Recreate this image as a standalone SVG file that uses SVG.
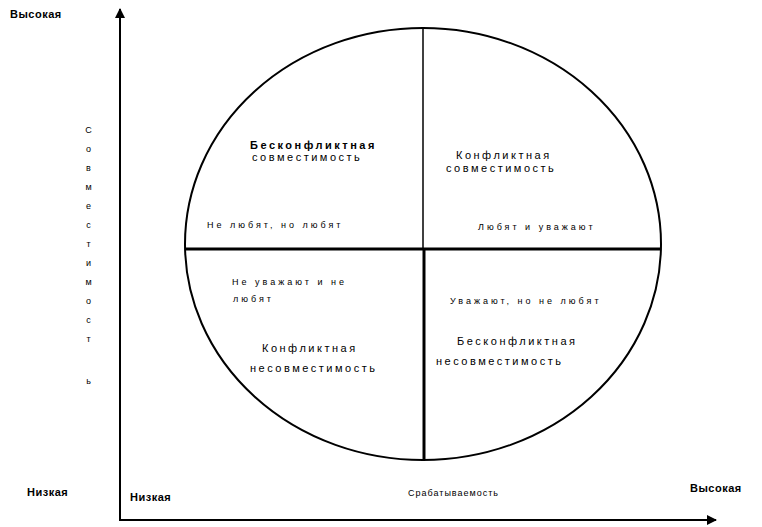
<svg xmlns="http://www.w3.org/2000/svg" width="762" height="527" viewBox="0 0 762 527">
<style>
.t{font-family:"Liberation Sans",Arial,sans-serif;font-size:11px;fill:#000;letter-spacing:2.5px}
.b{font-weight:bold}
.s{font-size:9px;letter-spacing:3px}
.l{letter-spacing:0.5px}
.ax{stroke:#000;stroke-width:2;fill:none}
</style>
<defs>
<marker id="ar" viewBox="0 0 10 10" refX="9" refY="5" markerWidth="5" markerHeight="5" orient="auto"><path d="M0,0 L10,5 L0,10 z" fill="#000"/></marker>
</defs>
<rect width="762" height="527" fill="#fff"/>
<g id="connectors">
<line class="ax" x1="120" y1="520" x2="120" y2="9" marker-end="url(#ar)"/>
<line class="ax" x1="119" y1="520" x2="716" y2="520" marker-end="url(#ar)"/>
</g>
<g id="circle">
<ellipse cx="423" cy="244" rx="238" ry="216" fill="none" stroke="#000" stroke-width="2"/>
<line x1="423" y1="28" x2="423" y2="249" stroke="#000" stroke-width="1.5"/>
<line x1="424" y1="249" x2="424" y2="460" stroke="#000" stroke-width="3"/>
<line x1="186" y1="249" x2="660" y2="249" stroke="#000" stroke-width="3"/>
</g>
<g id="q1">
<text class="t b" x="250" y="149">Бесконфликтная</text>
<text class="t" x="252" y="161">совместимость</text>
<text class="t s" x="207" y="228">Не любят, но любят</text>
</g>
<g id="q2">
<text class="t" x="456" y="159">Конфликтная</text>
<text class="t" x="446" y="172">совместимость</text>
<text class="t s" x="478" y="230">Любят и уважают</text>
</g>
<g id="q3">
<text class="t s" x="232" y="285">Не уважают и не</text>
<text class="t s" x="233" y="302">любят</text>
<text class="t" x="262" y="352">Конфликтная</text>
<text class="t" x="250" y="372">несовместимость</text>
</g>
<g id="q4">
<text class="t s" x="450" y="304">Уважают, но не любят</text>
<text class="t" x="457" y="345">Бесконфликтная</text>
<text class="t" x="436" y="365">несовместимость</text>
</g>
<g id="labels">
<text class="t b l" x="10" y="18">Высокая</text>
<text class="t b l" x="27" y="496">Низкая</text>
<text class="t b l" x="130" y="501">Низкая</text>
<text class="t b l" x="690" y="492">Высокая</text>
<text class="t s" x="408" y="496" style="letter-spacing:1px">Срабатываемость</text>
<g class="t s" text-anchor="middle">
<text x="90" y="133">С</text>
<text x="90" y="152">о</text>
<text x="90" y="171">в</text>
<text x="90" y="190">м</text>
<text x="90" y="209">е</text>
<text x="90" y="228">с</text>
<text x="90" y="247">т</text>
<text x="90" y="266">и</text>
<text x="90" y="285">м</text>
<text x="90" y="304">о</text>
<text x="90" y="323">с</text>
<text x="90" y="342">т</text>
<text x="90" y="384">ь</text>
</g>
</g>
</svg>
